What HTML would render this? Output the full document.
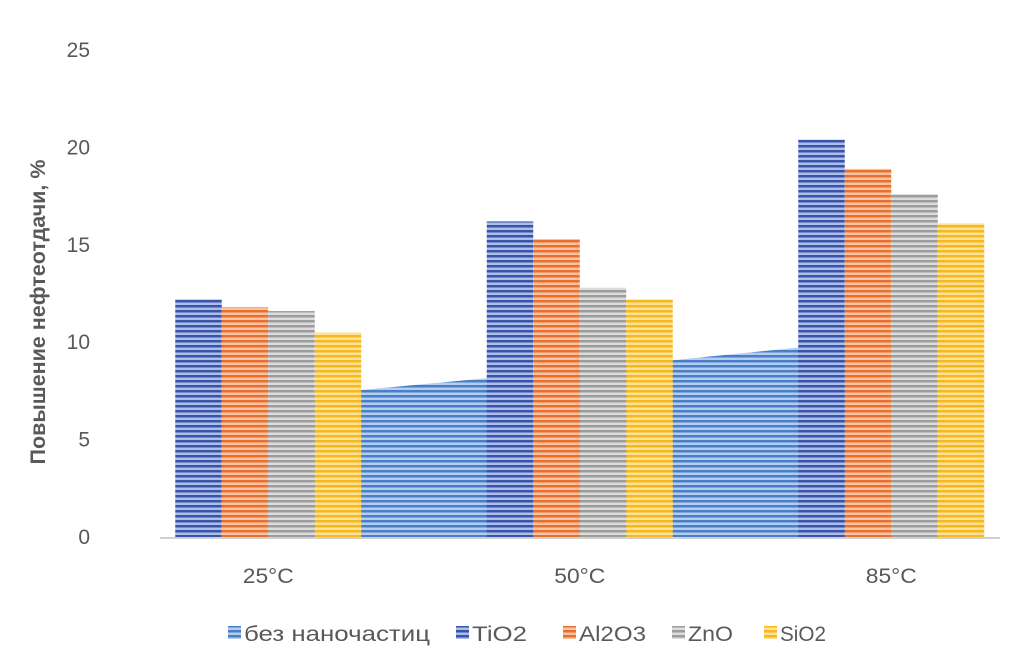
<!DOCTYPE html>
<html><head><meta charset="utf-8"><style>
body{margin:0;background:#fff;width:1010px;height:666px;overflow:hidden;font-family:"Liberation Sans","DejaVu Sans",sans-serif}
svg text{font-family:"Liberation Sans","DejaVu Sans",sans-serif}
</style></head><body>
<svg id="c" width="1010" height="666">
<defs>
<pattern id="pArea" width="6" height="5" patternUnits="userSpaceOnUse"><rect width="6" height="5" fill="#b4cdee"/><rect width="6" height="2.5" fill="#4a7fc8"/></pattern>
<pattern id="p0" width="6" height="5" patternUnits="userSpaceOnUse"><rect width="6" height="5" fill="#aebde8"/><rect width="6" height="2.5" fill="#3854a8"/></pattern>
<pattern id="p1" width="6" height="5" patternUnits="userSpaceOnUse"><rect width="6" height="5" fill="#f7c3a2"/><rect width="6" height="2.5" fill="#e8702f"/></pattern>
<pattern id="p2" width="6" height="5" patternUnits="userSpaceOnUse"><rect width="6" height="5" fill="#dcdcdc"/><rect width="6" height="2.5" fill="#9c9c9c"/></pattern>
<pattern id="p3" width="6" height="5" patternUnits="userSpaceOnUse"><rect width="6" height="5" fill="#fde29a"/><rect width="6" height="2.5" fill="#f7b81c"/></pattern>
</defs>
</svg>
<script>
const categories=["25°C","50°C","85°C"];
const areaValues=[7.1,8.6,10.2];
const tio2=[12.2,16.2,20.4];
const al2o3=[11.8,15.3,18.9];
const zno=[11.6,12.8,17.6];
const sio2=[10.5,12.2,16.1];
const yTicks=[0,5,10,15,20,25];
const seriesNames=["без наночастиц","TiO2","Al2O3","ZnO","SiO2"];

const NS="http://www.w3.org/2000/svg";
const svg=document.getElementById('c');
const base=537,unit=19.48;
const catW=311.5, catStart=112.5;
const y=v=>base-v*unit;
const cx=i=>catStart+catW*(i+0.5);
function mk(t,a){const e=document.createElementNS(NS,t);for(const k in a)e.setAttribute(k,a[k]);svg.appendChild(e);return e;}
yTicks.forEach(t=>{const e=mk('text',{x:90,y:y(t)+7,'text-anchor':'end','font-size':21,fill:'#595959'});e.textContent=t;

});
let pts=[];areaValues.forEach((v,i)=>pts.push(cx(i)+','+y(v)));
pts.push(cx(areaValues.length-1)+','+base,cx(0)+','+base);
const ar=mk('polygon',{points:pts.join(' '),fill:'url(#pArea)'});


const series=[tio2,al2o3,zno,sio2];const bw=46.5;
series.forEach((s,k)=>s.forEach((v,i)=>{
 const r=mk('rect',{x:cx(i)-2*bw+k*bw,y:y(v),width:bw,height:base-y(v),fill:'url(#p'+k+')'});
 
 
}));
const ax=mk('line',{x1:160,x2:1000,y1:base+1,y2:base+1,stroke:'#d0d0d0','stroke-width':2});


categories.forEach((c,i)=>{const e=mk('text',{x:cx(i),y:583,'text-anchor':'middle','font-size':21,fill:'#595959',textLength:51,lengthAdjust:'spacingAndGlyphs'});e.textContent=c;

});
const yt=mk('text',{x:0,y:0,transform:'translate(45,312) rotate(-90)','text-anchor':'middle','font-size':21,'font-weight':'bold',fill:'#595959',textLength:305,lengthAdjust:'spacingAndGlyphs'});
yt.textContent='Повышение нефтеотдачи, %';


const fills=['url(#pArea)','url(#p0)','url(#p1)','url(#p2)','url(#p3)'];
const lx=[228,456,563,672,764];
const tl=[186,55,67,45,46];
seriesNames.forEach((n,i)=>{
 const r=mk('rect',{x:lx[i],y:626,width:13,height:13,fill:fills[i]});
 
 
 const t=mk('text',{x:lx[i]+16,y:641,'font-size':21,fill:'#595959',textLength:tl[i],lengthAdjust:'spacingAndGlyphs'});t.textContent=n;
 
 
});
</script>
</body></html>
